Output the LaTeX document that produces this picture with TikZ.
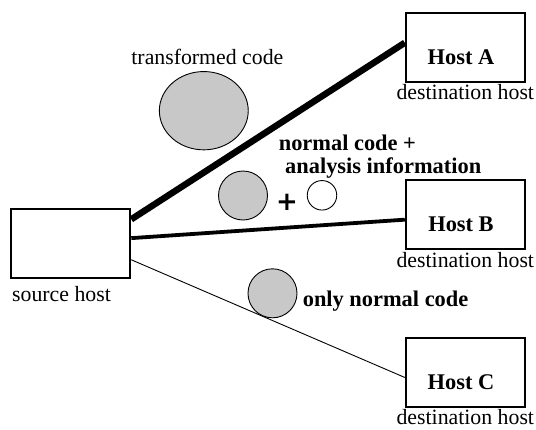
\documentclass[tikz,border=0pt]{standalone}
\usepackage{fontspec}
\setmainfont{Liberation Serif}
\newfontfamily\plusfont{DejaVu Sans}
\usetikzlibrary{calc,shapes.geometric}
\definecolor{codefill}{RGB}{200,200,200}
\tikzset{
  hostbox/.style={draw, line width=2pt, minimum width=119pt, minimum height=69pt, inner sep=0pt},
  plain/.style={font=\fontsize{21.8}{26}\selectfont, inner sep=0pt, anchor=base},
  strong/.style={font=\fontsize{22.4}{26}\bfseries\selectfont, inner sep=0pt, anchor=base},
  codeblob/.style={draw, line width=0.9pt, fill=codefill, inner sep=0pt},
  infoblob/.style={draw, line width=0.9pt, fill=white, inner sep=0pt},
}
\begin{document}
\begin{tikzpicture}[x=1pt,y=-1pt]
  \useasboundingbox (0,0) rectangle (536,429);

  % hosts
  \node[hostbox] (src) at (70.8,243.8) {};
  \node[hostbox] (ha) at (465.3,47) {};
  \node[hostbox] (hb) at (465.3,214.7) {};
  \node[hostbox] (hc) at (465.3,372) {};

  \node[strong] (ta) at (461,64) {Host A};
  \node[strong] (tb) at (461,231.7) {Host B};
  \node[strong] (tc) at (461,389) {Host C};

  \node[plain] (src-l) at (61.5,301) {source host};
  \node[plain] (da) at (465.3,99.5) {destination host};
  \node[plain] (db) at (465.3,267) {destination host};
  \node[plain] (dc) at (465.3,424) {destination host};

  % transfer links
  \coordinate (sa) at ($(src.north east)!0.155!(src.south east)$);
  \coordinate (sb) at ($(src.north east)!0.42!(src.south east)$);
  \coordinate (sc) at ($(src.north east)!0.725!(src.south east)$);
  \coordinate (ea) at ($(ha.north west)!0.44!(ha.south west)$);
  \coordinate (eb) at ($(hb.north west)!0.57!(hb.south west)$);
  \coordinate (ec) at ($(hc.north west)!0.577!(hc.south west)$);
  \draw[line width=6.5pt] (sa) -- (ea);
  \draw[line width=3.8pt] (sb) -- (eb);
  \draw[line width=0.9pt] (sc) -- (ec);

  % transformed code
  \node[codeblob, ellipse, minimum width=88.9pt, minimum height=78.3pt] (tc-blob) at (203.8,110.7) {};
  \node[plain] (tc-l) at (207.4,64) {transformed code};

  % normal code + analysis information
  \node[codeblob, circle, minimum size=49pt] (nb) at (243,195.5) {};
  \node[inner sep=0pt, font=\plusfont\bfseries\fontsize{26}{26}\selectfont] (plus) at (287,202.5) {+};
  \node[infoblob, circle, minimum size=29.5pt] (ib) at (322,195.3) {};
  \node[strong, anchor=base west] (nl1) at (278.6,150.7) {normal code +};
  \node[strong, anchor=base west] (nl2) at (285,173.3) {analysis information};

  % only normal code
  \node[codeblob, circle, minimum size=49pt] (ob) at (272.5,293.3) {};
  \node[strong, anchor=base west] (ol) at (302.6,306.7) {only normal code};
\end{tikzpicture}
\end{document}
